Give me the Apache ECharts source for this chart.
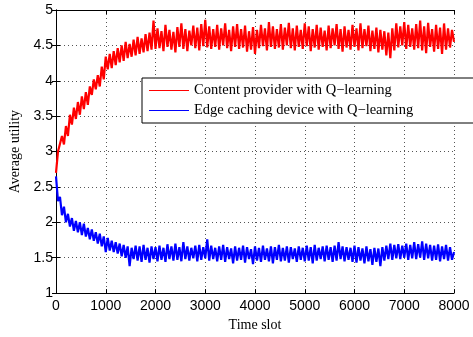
<!DOCTYPE html>
<html>
<head>
<meta charset="utf-8">
<script src="https://cdn.jsdelivr.net/npm/echarts@6/dist/echarts.min.js"></script>
<style>
  html, body { margin: 0; padding: 0; background: #fff; }
  #chart { width: 473px; height: 337px; }
</style>
</head>
<body>
<div id="chart"></div>
<script>
const slotStep = 40
const xTicks = [0, 1000, 2000, 3000, 4000, 5000, 6000, 7000, 8000]
const yTicks = [1, 1.5, 2, 2.5, 3, 3.5, 4, 4.5, 5]

const providerUtility = [
  2.70, 3.00, 2.98, 3.22, 3.10, 3.36, 3.22, 3.52, 3.38, 3.62, 3.46,
  3.70, 3.52, 3.78, 3.60, 3.84, 3.66, 3.92, 3.80, 4.02, 3.88,
  4.08, 3.92, 4.20, 4.02, 4.34, 4.16, 4.38, 4.18, 4.42, 4.22,
  4.46, 4.26, 4.50, 4.28, 4.55, 4.32, 4.52, 4.34, 4.58, 4.36,
  4.62, 4.38, 4.60, 4.40, 4.66, 4.42, 4.68, 4.44, 4.85, 4.45,
  4.74, 4.46, 4.70, 4.42, 4.79, 4.48, 4.72, 4.44, 4.69, 4.40,
  4.76, 4.48, 4.81, 4.45, 4.73, 4.42, 4.71, 4.50, 4.78, 4.46,
  4.75, 4.43, 4.80, 4.49, 4.86, 4.47, 4.77, 4.45, 4.73, 4.48,
  4.79, 4.44, 4.74, 4.50, 4.81, 4.46, 4.72, 4.42, 4.77, 4.48,
  4.80, 4.45, 4.73, 4.47, 4.78, 4.41, 4.70, 4.44, 4.76, 4.38,
  4.72, 4.46, 4.79, 4.49, 4.74, 4.43, 4.83, 4.48, 4.77, 4.45,
  4.73, 4.47, 4.80, 4.44, 4.75, 4.50, 4.82, 4.46, 4.74, 4.43,
  4.78, 4.48, 4.72, 4.45, 4.81, 4.49, 4.77, 4.42, 4.73, 4.47,
  4.79, 4.44, 4.75, 4.48, 4.71, 4.43, 4.78, 4.46, 4.74, 4.50,
  4.80, 4.45, 4.73, 4.41, 4.77, 4.47, 4.72, 4.44, 4.79, 4.48,
  4.74, 4.43, 4.81, 4.46, 4.73, 4.49, 4.78, 4.42, 4.71, 4.45,
  4.75, 4.40, 4.72, 4.44, 4.70, 4.36, 4.68, 4.32, 4.74, 4.43,
  4.81, 4.47, 4.77, 4.50, 4.83, 4.45, 4.79, 4.48, 4.74, 4.44,
  4.80, 4.46, 4.85, 4.43, 4.77, 4.39, 4.82, 4.48, 4.73, 4.41,
  4.79, 4.45, 4.75, 4.38, 4.81, 4.44, 4.74, 4.47, 4.72, 4.55
]

const edgeUtility = [
  2.65, 2.30, 2.36, 2.10, 2.22, 2.00, 2.12, 1.94, 2.06, 1.88, 2.02,
  1.86, 2.00, 1.82, 1.98, 1.80, 1.92, 1.76, 1.90, 1.74, 1.86,
  1.70, 1.84, 1.66, 1.80, 1.58, 1.78, 1.60, 1.74, 1.58, 1.72,
  1.56, 1.70, 1.52, 1.68, 1.50, 1.66, 1.38, 1.64, 1.48, 1.67,
  1.46, 1.66, 1.44, 1.68, 1.47, 1.64, 1.43, 1.66, 1.48, 1.65,
  1.45, 1.67, 1.47, 1.64, 1.44, 1.69, 1.48, 1.66, 1.46, 1.70,
  1.47, 1.65, 1.45, 1.72, 1.48, 1.66, 1.46, 1.64, 1.49, 1.67,
  1.45, 1.68, 1.47, 1.65, 1.49, 1.76, 1.46, 1.67, 1.48, 1.64,
  1.45, 1.66, 1.47, 1.68, 1.44, 1.65, 1.48, 1.63, 1.42, 1.66,
  1.46, 1.64, 1.47, 1.67, 1.43, 1.65, 1.48, 1.62, 1.41, 1.66,
  1.46, 1.64, 1.44, 1.67, 1.47, 1.63, 1.45, 1.66, 1.42, 1.65,
  1.47, 1.68, 1.45, 1.64, 1.46, 1.66, 1.43, 1.65, 1.48, 1.63,
  1.44, 1.66, 1.47, 1.64, 1.45, 1.67, 1.46, 1.65, 1.42, 1.68,
  1.46, 1.64, 1.48, 1.66, 1.45, 1.67, 1.47, 1.65, 1.44, 1.67,
  1.46, 1.72, 1.48, 1.66, 1.45, 1.65, 1.47, 1.64, 1.44, 1.67,
  1.43, 1.65, 1.46, 1.63, 1.42, 1.66, 1.45, 1.62, 1.40, 1.64,
  1.44, 1.63, 1.38, 1.65, 1.46, 1.67, 1.48, 1.70, 1.47, 1.68,
  1.49, 1.69, 1.48, 1.67, 1.50, 1.70, 1.47, 1.68, 1.49, 1.72,
  1.48, 1.69, 1.50, 1.73, 1.47, 1.70, 1.49, 1.68, 1.46, 1.67,
  1.47, 1.69, 1.45, 1.66, 1.48, 1.68, 1.46, 1.65, 1.47, 1.58
]

const seriesNames = ['Content provider with Q\u2212learning', 'Edge caching device with Q\u2212learning']

const toPairs = arr => arr.map((v, i) => [i * slotStep, v])

const frameAxis = {
  axisLine: { show: true, lineStyle: { color: '#000', width: 1 } },
  axisTick: { show: true, inside: true, length: 4, lineStyle: { color: '#000' } },
  splitLine: { show: false },
  axisLabel: { show: false }
}
const gridDots = { show: true, lineStyle: { color: '#555', type: [1, 3], width: 1 } }
const tickFont = { fontFamily: 'Liberation Sans', fontSize: 14, color: '#000' }

let option = {
  animation: false,
  grid: { left: 56, right: 19, top: 10, bottom: 37 },
  legend: {
    data: seriesNames,
    orient: 'vertical',
    left: 142,
    top: 78,
    icon: 'path://M0,0 H40 V1 H0 Z',
    symbolKeepAspect: true,
    padding: [5, 62, 5, 7],
    itemGap: 5,
    itemWidth: 40,
    itemHeight: 14,
    backgroundColor: '#fff',
    borderColor: '#000',
    borderWidth: 1,
    borderRadius: 0,
    lineStyle: { width: 1 },
    textStyle: { fontFamily: 'Liberation Serif', fontSize: 14.5, color: '#000' }
  },
  xAxis: [
    {
      type: 'value', min: 0, max: 8000, interval: 1000,
      name: 'Time slot', nameLocation: 'middle', nameGap: 22,
      nameTextStyle: { fontFamily: 'Liberation Serif', fontSize: 14, color: '#000' },
      axisLine: frameAxis.axisLine, axisTick: frameAxis.axisTick,
      axisLabel: Object.assign({ margin: 6, formatter: v => String(v) }, tickFont),
      splitLine: gridDots
    },
    Object.assign({ type: 'value', position: 'top', min: 0, max: 8000, interval: 1000 }, frameAxis)
  ],
  yAxis: [
    {
      type: 'value', min: 1, max: 5, interval: 0.5,
      name: 'Average utility', nameLocation: 'middle', nameGap: 29,
      nameTextStyle: { fontFamily: 'Liberation Serif', fontSize: 14, color: '#000' },
      axisLine: frameAxis.axisLine, axisTick: frameAxis.axisTick,
      axisLabel: Object.assign({ margin: 3, formatter: v => String(v) }, tickFont),
      splitLine: gridDots
    },
    Object.assign({ type: 'value', position: 'right', min: 1, max: 5, interval: 0.5 }, frameAxis)
  ],
  series: [
    {
      name: seriesNames[1], type: 'line', symbol: 'none', z: 3,
      lineStyle: { color: '#0000ff', width: 2.2 }, itemStyle: { color: '#0000ff' },
      data: toPairs(edgeUtility)
    },
    {
      name: seriesNames[0], type: 'line', symbol: 'none', z: 4,
      lineStyle: { color: '#ff0000', width: 2.2 }, itemStyle: { color: '#ff0000' },
      data: toPairs(providerUtility)
    }
  ]
}

let myChart = echarts.init(document.getElementById('chart'))
myChart.setOption(option)
</script>
</body>
</html>
